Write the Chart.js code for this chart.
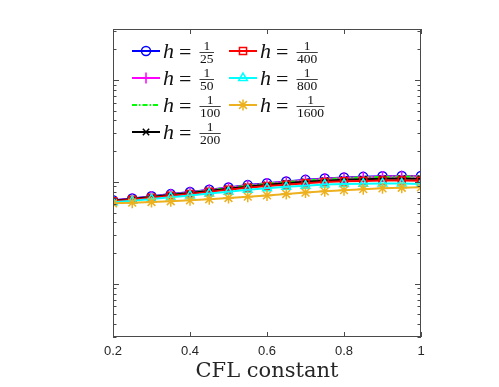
<!DOCTYPE html>
<html>
<head>
<meta charset="utf-8">
<script src="https://cdn.jsdelivr.net/npm/chart.js@4/dist/chart.umd.min.js"></script>
<style>
    html, body { margin: 0; padding: 0; background: #fff; }
</style>
</head>
<body>
<canvas id="cflChart" width="499" height="387"></canvas>
<script>
// CFL values on the x axis
const cfl = [0.2, 0.25, 0.3, 0.35, 0.4, 0.45, 0.5, 0.55, 0.6, 0.65, 0.7, 0.75, 0.8, 0.85, 0.9, 0.95, 1.0]
const xTickLabels = [0.2, 0.4, 0.6, 0.8, 1]

// error values (units of 1e-4)
const errH25   = [6.59, 6.87, 7.23, 7.58, 7.94, 8.37, 8.81, 9.29, 9.71, 10.09, 10.46, 10.79, 11.04, 11.19, 11.35, 11.42, 11.40]
const errH50   = [6.55, 6.83, 7.18, 7.53, 7.89, 8.31, 8.75, 9.23, 9.65, 10.02, 10.39, 10.72, 10.96, 11.11, 11.27, 11.34, 11.32]
const errH100  = [6.50, 6.78, 7.14, 7.48, 7.84, 8.26, 8.70, 9.17, 9.58, 9.96, 10.32, 10.65, 10.90, 11.04, 11.20, 11.27, 11.25]
const errH200  = [6.52, 6.78, 7.10, 7.43, 7.75, 8.14, 8.54, 8.96, 9.34, 9.67, 10.00, 10.27, 10.49, 10.59, 10.71, 10.76, 10.70]
const errH400  = [6.44, 6.68, 6.99, 7.29, 7.59, 7.97, 8.34, 8.74, 9.10, 9.38, 9.69, 9.95, 10.11, 10.21, 10.31, 10.30, 10.24]
const errH800  = [6.30, 6.51, 6.79, 7.06, 7.34, 7.67, 7.99, 8.37, 8.67, 8.93, 9.17, 9.40, 9.54, 9.58, 9.65, 9.62, 9.52]
const errH1600 = [6.15, 6.24, 6.34, 6.45, 6.59, 6.75, 6.94, 7.15, 7.36, 7.60, 7.85, 8.07, 8.29, 8.48, 8.64, 8.75, 8.83]

const series = [
    { den: '25',   data: errH25,   color: '#0000ff', style: 'circle',   radius: 4.5, dash: [] },
    { den: '50',   data: errH50,   color: '#ff00ff', style: 'cross',    radius: 5.5, dash: [] },
    { den: '100',  data: errH100,  color: '#00ff00', style: false,      radius: 0,   dash: [5, 2, 1.5, 2] },
    { den: '200',  data: errH200,  color: '#000000', style: 'crossRot', radius: 4.5, dash: [] },
    { den: '400',  data: errH400,  color: '#ff0000', style: 'rect',     radius: 5,   dash: [] },
    { den: '800',  data: errH800,  color: '#00ffff', style: 'triangle', radius: 5,   dash: [] },
    { den: '1600', data: errH1600, color: '#edb120', style: 'star',     radius: 5.5, dash: [] }
]

const yMin = 0.3
const yMax = 316.2

// box + inward ticks like matlab
const axesBox = {
    id: 'axesBox',
    afterDatasetsDraw(chart) {
        const { ctx, chartArea: a, scales: { x, y } } = chart
        ctx.save()
        ctx.strokeStyle = '#4a4a4a'
        ctx.lineWidth = 1
        ctx.setLineDash([])
        ctx.strokeRect(a.left + 0.5, a.top + 0.5, a.right - a.left - 1, a.bottom - a.top - 1)
        ctx.beginPath()
        xTickLabels.forEach(v => {
            const px = Math.round(x.getPixelForValue(v)) + 0.5
            ctx.moveTo(px, a.bottom); ctx.lineTo(px, a.bottom - 5)
            ctx.moveTo(px, a.top); ctx.lineTo(px, a.top + 5)
        })
        for (let e = -1; e <= 3; e++) {
            for (let m = 1; m <= 9; m++) {
                const v = m * Math.pow(10, e)
                if (v < yMin || v > yMax) continue
                const py = Math.round(y.getPixelForValue(v)) + 0.5
                const len = m === 1 ? 6 : 3.5
                ctx.moveTo(a.left, py); ctx.lineTo(a.left + len, py)
                ctx.moveTo(a.right, py); ctx.lineTo(a.right - len, py)
            }
        }
        ctx.stroke()
        ctx.restore()
    }
}

// legend with h = 1/n fractions, two columns
const fracLegend = {
    id: 'fracLegend',
    afterDraw(chart) {
        const ctx = chart.ctx
        const cols = [132, 229]
        const rows = [51, 78, 105, 132]
        const slots = [[0, 0], [0, 1], [0, 2], [0, 3], [1, 0], [1, 1], [1, 2]]
        ctx.save()
        series.forEach((s, i) => {
            const x0 = cols[slots[i][0]]
            const yr = rows[slots[i][1]]
            ctx.strokeStyle = s.color
            ctx.lineWidth = 2
            ctx.setLineDash(s.dash)
            ctx.beginPath()
            ctx.moveTo(x0, yr); ctx.lineTo(x0 + 28, yr)
            ctx.stroke()
            ctx.setLineDash([])
            if (s.style) {
                ctx.fillStyle = 'rgba(0,0,0,0)'
                ctx.lineWidth = 1.5
                Chart.helpers.drawPoint(ctx, { pointStyle: s.style, radius: s.radius, borderWidth: 1.5, rotation: 0 }, x0 + 14, yr)
            }
            ctx.fillStyle = '#111'
            ctx.textAlign = 'left'
            ctx.textBaseline = 'alphabetic'
            ctx.font = 'italic 22px "Liberation Serif"'
            ctx.fillText('h', x0 + 31, yr + 7)
            ctx.font = '22px "Liberation Serif"'
            ctx.fillText('=', x0 + 47, yr + 8)
            ctx.font = '13.5px "Liberation Serif"'
            const w = ctx.measureText(s.den).width
            const fx = x0 + 68
            ctx.textAlign = 'center'
            ctx.fillText('1', fx + w / 2, yr - 1)
            ctx.fillText(s.den, fx + w / 2, yr + 11.5)
            ctx.strokeStyle = '#111'
            ctx.lineWidth = 0.8
            ctx.beginPath()
            ctx.moveTo(fx - 0.5, yr + 1.5); ctx.lineTo(fx + w + 0.5, yr + 1.5)
            ctx.stroke()
        })
        ctx.restore()
    }
}

const ctx = document.getElementById('cflChart').getContext('2d')
new Chart(ctx, {
    type: 'line',
    data: {
        datasets: series.map((s, i) => ({
            label: 'h = 1/' + s.den,
            data: cfl.map((c, k) => ({ x: c, y: s.data[k] })),
            borderColor: s.color,
            backgroundColor: 'rgba(0,0,0,0)',
            borderWidth: 2,
            borderDash: s.dash,
            pointStyle: s.style,
            pointRadius: s.radius,
            pointBorderWidth: 1.5,
            pointBorderColor: s.color,
            pointBackgroundColor: 'rgba(0,0,0,0)',
            tension: 0,
            fill: false,
            order: series.length - i
        }))
    },
    options: {
        responsive: false,
        animation: false,
        layout: { padding: { left: 113, right: 78, top: 29, bottom: 0 } },
        plugins: {
            legend: { display: false },
            tooltip: { enabled: false }
        },
        scales: {
            x: {
                type: 'linear',
                min: 0.2,
                max: 1,
                afterFit: s => { s.height = 50 },
                afterBuildTicks: s => { s.ticks = xTickLabels.map(v => ({ value: v })) },
                grid: { display: false, drawTicks: false },
                border: { display: false },
                ticks: {
                    padding: 7,
                    color: '#262626',
                    font: { family: '"Liberation Sans", Helvetica, Arial', size: 13 },
                    callback: v => String(v),
                    maxRotation: 0
                },
                title: {
                    display: true,
                    text: 'CFL constant',
                    color: '#262626',
                    font: { family: '"DejaVu Serif"', size: 21 },
                    padding: { top: 0, bottom: 3 }
                }
            },
            y: {
                type: 'logarithmic',
                min: yMin,
                max: yMax,
                display: false
            }
        }
    },
    plugins: [axesBox, fracLegend]
});
</script>
</body>
</html>
